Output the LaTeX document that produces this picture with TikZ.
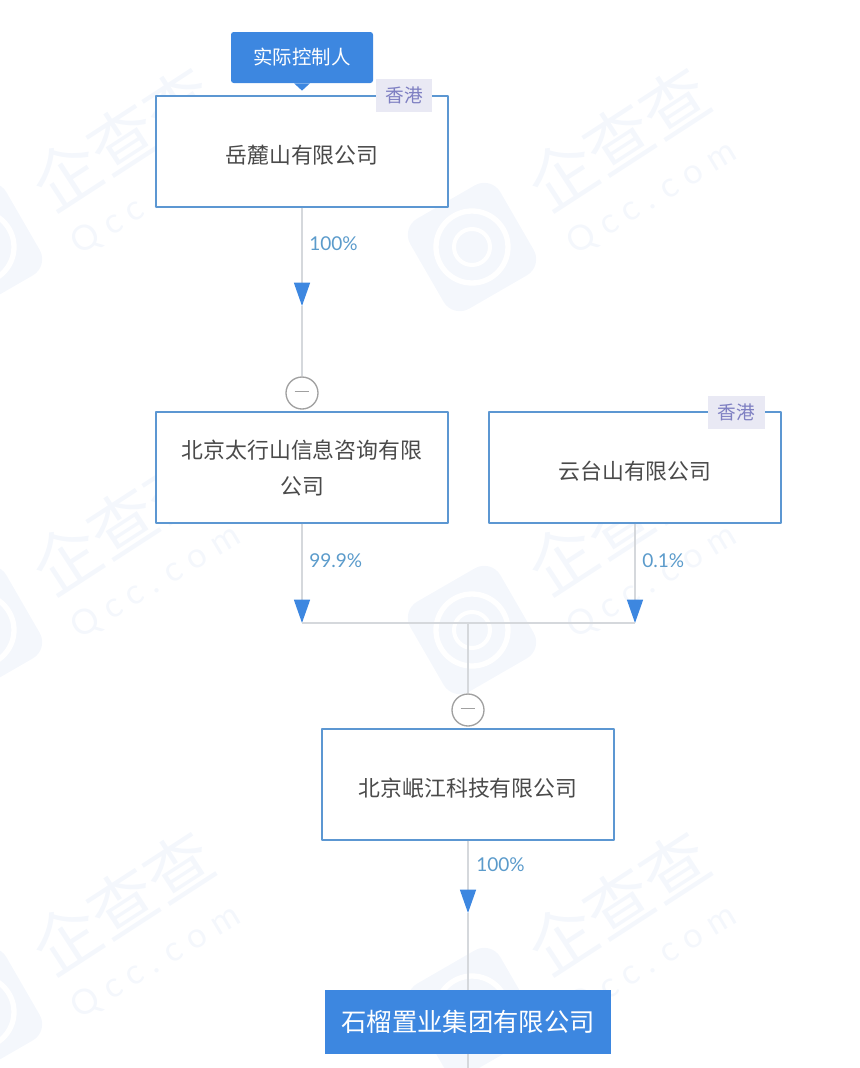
\documentclass[tikz,border=0pt]{standalone}
\usepackage{fontspec}
\setmainfont{Lato}
\newfontfamily\cjk{Noto Sans CJK SC}
\usetikzlibrary{arrows.meta}
\definecolor{qblue}{HTML}{3D87E0}
\definecolor{qedge}{HTML}{5C97D2}
\definecolor{qlink}{HTML}{D5D8DC}
\definecolor{qtext}{HTML}{4A4A4A}
\definecolor{qpct}{HTML}{5B9BCB}
\definecolor{qtag}{HTML}{E9E9F4}
\definecolor{qtagtext}{HTML}{7E7FC2}
\definecolor{qball}{HTML}{A0A0A0}
\definecolor{qwater}{HTML}{F4F7FC}
\begin{document}
\begin{tikzpicture}[x=.75pt, y=-.75pt, line join=round,
	company/.style={draw=qedge, line width=1pt, fill=white, minimum width=219pt, minimum height=83.25pt, inner sep=0pt, align=center, text=qtext, font=\cjk\fontsize{16.4}{27}\selectfont, execute at begin node=\rule{0pt}{19pt}},
	target/.style={fill=qblue, minimum width=214.5pt, minimum height=48pt, inner sep=0pt, text=white, font=\cjk\fontsize{19}{24}\selectfont},
	badge/.style={fill=qblue, rounded corners=2pt, minimum width=106.5pt, minimum height=38.25pt, inner sep=0pt, text=white, font=\cjk\fontsize{14.6}{18}\selectfont},
	region/.style={fill=qtag, minimum width=42.5pt, minimum height=24.75pt, inner sep=0pt, text=qtagtext, font=\cjk\fontsize{14}{18}\selectfont},
	pct/.style={anchor=west, inner sep=0pt, text=qpct, font=\fontsize{14.3}{17}\selectfont},
	ball/.style={circle, draw=qball, line width=1pt, fill=white, minimum size=24pt, inner sep=0pt},
	link/.style={draw=qlink, line width=1.1pt},
	tip/.style={link, -{Triangle[color=qblue, width=12pt, length=17.5pt]}},
	wmark/.style={text=qwater, rotate=33, font=\cjk\fontsize{50}{54}\selectfont},
	wmlatin/.style={text=qwater, rotate=31, font=\fontsize{26}{30}\selectfont},
	wmicon/.style={fill=qwater, rounded corners=14pt, rotate=30, minimum size=78pt, inner sep=0pt}]
	\useasboundingbox (0,0) rectangle (860,1068);
	% watermark
	\node[wmicon] (iconA) at (472,247) {};
	\node[wmicon] (iconB) at (472,630) {};
	\node[wmicon] (iconC) at (472,1012) {};
	\node[wmicon] (iconD) at (-22,247) {};
	\node[wmicon] (iconE) at (-22,630) {};
	\node[wmicon] (iconF) at (-22,1012) {};
	\draw[white,line width=4pt] (472,247) circle (36) (472,630) circle (36) (472,1012) circle (36);
	\draw[white,line width=4pt] (-22,247) circle (36) (-22,630) circle (36) (-22,1012) circle (36);
	\draw[white,line width=3pt] (472,247) circle (18) (472,630) circle (18) (472,1012) circle (18);
	\node[wmark] (markA) at (618,138) {企查查};
	\node[wmark] (markB) at (618,522) {企查查};
	\node[wmark] (markC) at (618,902) {企查查};
	\node[wmark] (markD) at (122,138) {企查查};
	\node[wmark] (markE) at (122,522) {企查查};
	\node[wmark] (markF) at (122,902) {企查查};
	\node[wmlatin] (comA) at (652,198) {Q c c . c o m};
	\node[wmlatin] (comB) at (652,582) {Q c c . c o m};
	\node[wmlatin] (comC) at (652,962) {Q c c . c o m};
	\node[wmlatin] (comD) at (156,198) {Q c c . c o m};
	\node[wmlatin] (comE) at (156,582) {Q c c . c o m};
	\node[wmlatin] (comF) at (156,962) {Q c c . c o m};
	% companies
	\node[company] (yuelu) at (302,151.5) {岳麓山有限公司};
	\node[company] (taihang) at (302,467.5) {北京太行山信息咨询有限\\公司};
	\node[company] (yuntai) at (635,467.5) {云台山有限公司};
	\node[company] (minjiang) at (468,784.5) {北京岷江科技有限公司};
	\node[target] (shiliu) at (468,1022) {石榴置业集团有限公司};
	\node[region] (tagA) at (404,95.5) {香港};
	\node[region] (tagB) at (736.5,412.5) {香港};
	\node[badge] (holder) at (302,57.5) {实际控制人};
	\fill[qblue] ([xshift=-6pt]holder.south) -- ([yshift=-5.5pt]holder.south) -- ([xshift=6pt]holder.south) -- cycle;
	\node[ball] (ballA) at (302,393) {\textcolor{qball}{\rule[2.5pt]{11pt}{.9pt}}};
	\node[ball] (ballB) at (468,710) {\textcolor{qball}{\rule[2.5pt]{11pt}{.9pt}}};
	\coordinate (tipA) at (302,306);
	\coordinate (tipB) at (302,623);
	\coordinate (tipC) at (635,623);
	\coordinate (tipD) at (468,913);
	\coordinate (join) at (468,623);
	\coordinate (under) at (468,1068);
	% connectors
	\draw[tip] (yuelu.south) -- (tipA);
	\draw[link] (tipA) -- (ballA.north);
	\draw[tip] (taihang.south) -- (tipB);
	\draw[tip] (yuntai.south) -- (tipC);
	\draw[link] (tipB) -- (tipC);
	\draw[link] (join) -- (ballB.north);
	\draw[tip] (minjiang.south) -- (tipD);
	\draw[link] (tipD) -- (shiliu.north);
	\draw[link] (shiliu.south) -- (under);
	% percentages
	\node[pct] (pctA) at (309,243.5) {100\%};
	\node[pct] (pctB) at (309,560.5) {99.9\%};
	\node[pct] (pctC) at (642,560.5) {0.1\%};
	\node[pct] (pctD) at (476,864.5) {100\%};
\end{tikzpicture}
\end{document}
